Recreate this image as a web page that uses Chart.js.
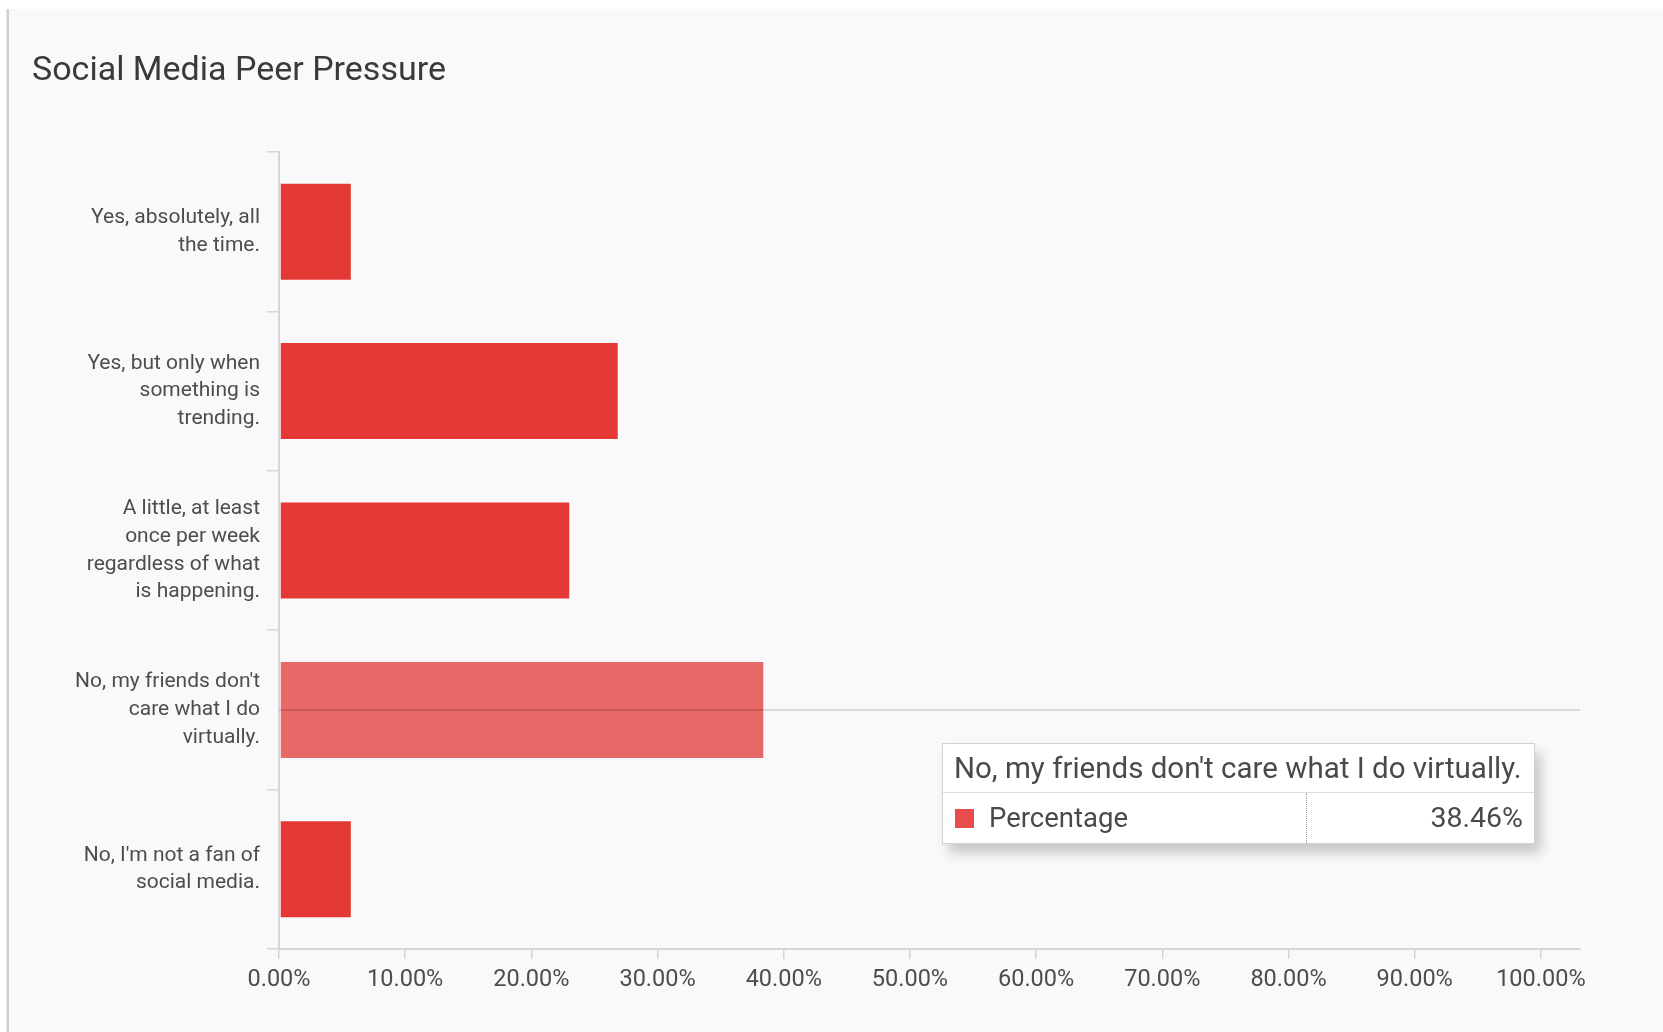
<!DOCTYPE html>
<html>
<head>
<meta charset="utf-8">
<script src="https://cdn.jsdelivr.net/npm/chart.js@4/dist/chart.umd.min.js"></script>
<style>
  html, body { margin: 0; padding: 0; background: #ffffff; }
  #wrap { position: relative; width: 1663px; height: 1032px; }
  #c { display: block; }
  #tip {
    position: absolute; display: none; box-sizing: border-box;
    background: #ffffff; border: 1px solid #d2d2d2;
    box-shadow: 6px 9px 12px rgba(0,0,0,0.2);
    font-family: Roboto, "Liberation Sans", sans-serif; color: #4a4a4a;
  }
  #tip .t { height: 48px; line-height: 48px; padding-left: 11px; font-size: 29.5px; border-bottom: 1px solid #dcdcdc; white-space: nowrap; }
  #tip .r { display: flex; height: 50px; line-height: 50px; font-size: 27.5px; }
  #tip .l { width: 364px; box-sizing: border-box; border-right: 1px dotted #9a9a9a; display: flex; align-items: center; padding-left: 12px; }
  #tip .sw { width: 19px; height: 19px; margin-right: 15px; }
  #tip .v { flex: 1; text-align: right; padding-right: 11px; font-size: 28.5px; }
</style>
</head>
<body>
<div id="wrap">
  <canvas id="c" width="1663" height="1032"></canvas>
  <div id="tip"><div class="t"></div><div class="r"><div class="l"><span class="sw"></span><span class="n"></span></div><div class="v"></div></div></div>
</div>
<script>
// ---- data ----
const chartTitle = "Social Media Peer Pressure";
const categories = [
  ["Yes, absolutely, all", "the time."],
  ["Yes, but only when", "something is", "trending."],
  ["A little, at least", "once per week", "regardless of what", "is happening."],
  ["No, my friends don't", "care what I do", "virtually."],
  ["No, I'm not a fan of", "social media."]
];
const seriesName = "Percentage";
const percentages = [5.77, 26.92, 23.08, 38.46, 5.77];
const xTickValues = [0, 10, 20, 30, 40, 50, 60, 70, 80, 90, 100];
const highlightedIndex = 3;

// ---- styles ----
const barColor = "#e43835";
const barHoverColor = "#e86767";
const axisColor = "#d6d6d6";
const textColor = "#4d4d4d";

const backgroundPlugin = {
  id: "cardBackground",
  beforeDraw(chart) {
    const ctx = chart.ctx;
    ctx.save();
    ctx.fillStyle = "#ffffff";
    ctx.fillRect(0, 0, chart.width, chart.height);
    ctx.fillStyle = "#f9f9fb";
    ctx.fillRect(9, 9, chart.width - 9, chart.height - 9);
    ctx.fillStyle = "#cfcfcf";
    ctx.fillRect(6.5, 9, 2.5, chart.height - 9);
    ctx.restore();
  }
};

const crosshairPlugin = {
  id: "crosshair",
  afterDatasetsDraw(chart) {
    const active = chart.getActiveElements();
    if (!active.length) return;
    const el = active[0].element;
    const ctx = chart.ctx;
    ctx.save();
    ctx.strokeStyle = "rgba(0,0,0,0.12)";
    ctx.lineWidth = 2;
    ctx.beginPath();
    ctx.moveTo(chart.chartArea.left, Math.round(el.y));
    ctx.lineTo(chart.chartArea.right, Math.round(el.y));
    ctx.stroke();
    ctx.restore();
  }
};

function externalTooltip(context) {
  const tooltip = context.tooltip;
  const tip = document.getElementById("tip");
  if (!tooltip || tooltip.opacity === 0 || !tooltip.dataPoints || !tooltip.dataPoints.length) {
    tip.style.display = "none";
    return;
  }
  const dp = tooltip.dataPoints[0];
  tip.querySelector(".t").textContent = categories[dp.dataIndex].join(" ");
  tip.querySelector(".n").textContent = dp.dataset.label;
  tip.querySelector(".sw").style.background = "#e84c4c";
  tip.querySelector(".v").textContent = Number(dp.raw).toFixed(2) + "%";
  tip.style.display = "block";
  tip.style.width = "593px";
  tip.style.left = Math.round(tooltip.caretX + 178) + "px";
  tip.style.top = Math.round(tooltip.caretY + 33) + "px";
}

const chart = new Chart(document.getElementById("c"), {
  type: "bar",
  data: {
    labels: categories,
    datasets: [{
      label: seriesName,
      data: percentages,
      backgroundColor: barColor,
      hoverBackgroundColor: barHoverColor,
      borderColor: "rgba(255,255,255,0.35)",
      hoverBorderColor: "rgba(255,255,255,0.45)",
      borderWidth: 1,
      borderSkipped: false,
      categoryPercentage: 0.615,
      barPercentage: 1.0
    }]
  },
  plugins: [backgroundPlugin, crosshairPlugin],
  options: {
    indexAxis: "y",
    responsive: false,
    devicePixelRatio: 1,
    animation: false,
    events: [],
    layout: { padding: { left: 32, right: 83, top: 0, bottom: 0 } },
    plugins: {
      legend: { display: false },
      title: {
        display: true,
        text: chartTitle,
        align: "start",
        color: "#3a3a3a",
        font: { family: "Roboto", size: 34, weight: "normal", lineHeight: 1.2 },
        padding: { top: 51, bottom: 60.2 }
      },
      tooltip: { enabled: false, external: externalTooltip }
    },
    scales: {
      x: {
        type: "linear",
        min: 0,
        max: 103.1,
        afterBuildTicks(scale) { scale.ticks = xTickValues.map(v => ({ value: v })); },
        afterFit(scale) { scale.height = 83; },
        border: { display: true, color: axisColor, width: 2 },
        grid: { drawOnChartArea: false, drawTicks: true, tickLength: 10, color: axisColor, lineWidth: 1.5 },
        ticks: {
          padding: 7,
          color: textColor,
          font: { family: "Roboto", size: 23.5 },
          maxRotation: 0,
          autoSkip: false,
          callback: v => Number(v).toFixed(2) + "%"
        }
      },
      y: {
        type: "category",
        afterFit(scale) { scale.width = 279 - 32; },
        border: { display: true, color: axisColor, width: 2 },
        grid: { offset: true, drawOnChartArea: false, drawTicks: true, tickLength: 12, color: axisColor, lineWidth: 1.5 },
        ticks: {
          padding: 7,
          color: textColor,
          autoSkip: false,
          font: { family: "Roboto", size: 21, lineHeight: 1.32 }
        }
      }
    }
  }
});

chart.setActiveElements([{ datasetIndex: 0, index: highlightedIndex }]);
chart.tooltip.setActiveElements([{ datasetIndex: 0, index: highlightedIndex }], { x: 0, y: 0 });
chart.render();
</script>
</body>
</html>
